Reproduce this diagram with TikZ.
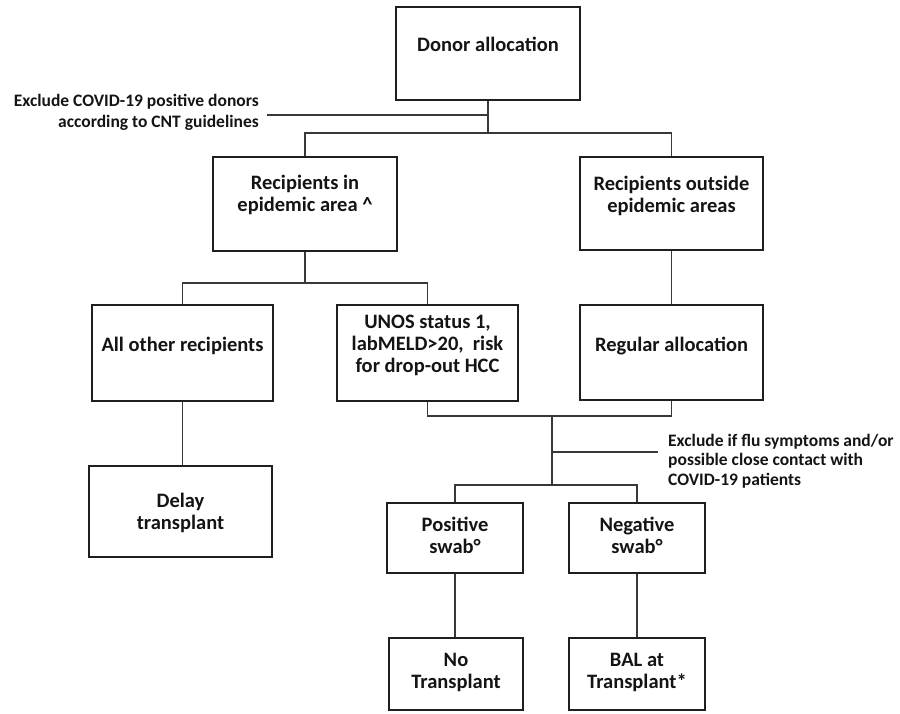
\documentclass[tikz,border=0pt]{standalone}
\usepackage{fontspec}
\setmainfont{Carlito}
\newcommand{\boxtxt}[2]{\raisebox{#1}[\height][\depth]{\begin{tabular}{@{}c@{}}#2\end{tabular}}}
\begin{document}
\begin{tikzpicture}[x=1pt,y=-1pt,
  bx/.style 2 args={draw=black!88, line width=1.1pt, inner sep=0pt,
    minimum width=#1, minimum height=#2,
    font=\fontsize{20.5}{22}\selectfont\bfseries, text=black!92},
  conn/.style={draw=black!78, line width=1.1pt},
  extxt/.style={inner sep=0pt, text=black!92}]
\useasboundingbox (0,0) rectangle (900,713);

% boxes
\node[bx={184}{93}] (donor) at (488,53.5) {\boxtxt{6.5pt}{Donor allocation}};
\node[bx={184}{94}] (recin) at (305,204) {\boxtxt{7.5pt}{Recipients in\\epidemic area \textasciicircum}};
\node[bx={183}{93}] (recout) at (671.5,203.5) {\boxtxt{6.5pt}{Recipients outside\\epidemic areas}};
\node[bx={181}{96}] (allother) at (182.5,353) {\boxtxt{6pt}{All other recipients}};
\node[bx={181}{96}] (unos) at (427.5,353) {\boxtxt{7pt}{UNOS status 1,\\labMELD>20,~ risk\\for drop-out HCC}};
\node[bx={183}{95}] (regular) at (671.5,352.5) {\boxtxt{5.5pt}{Regular allocation}};
\node[bx={183}{91}] (delay) at (180.5,511.5) {\boxtxt{-2.5pt}{Delay\\transplant}};
\node[bx={136}{70}] (pos) at (455,538) {\boxtxt{0pt}{Positive\\swab°}};
\node[bx={136}{70}] (neg) at (637,538) {\boxtxt{0pt}{Negative\\swab°}};
\node[bx={134}{72}] (notx) at (456,674) {\boxtxt{1pt}{No\\Transplant}};
\node[bx={136}{72}] (bal) at (637,674) {\boxtxt{1pt}{BAL at\\Transplant*}};

% side notes
\node[extxt, anchor=east, font=\fontsize{17.5}{21}\selectfont\bfseries] (ex1) at (259,112.5)
  {\begin{tabular}{@{}r@{}}Exclude COVID-19 positive donors\\according to CNT guidelines\end{tabular}};
\node[extxt, anchor=west, font=\fontsize{17.5}{19.5}\selectfont\bfseries] (ex2) at (668,462)
  {\begin{tabular}{@{}l@{}}Exclude if flu symptoms and/or\\possible close contact with\\COVID-19 patients\end{tabular}};

% junctions
\coordinate (e1s) at (267,115);
\coordinate (e1) at (488,115);
\coordinate (j1) at (488,133);
\coordinate (j2) at (305,283);
\coordinate (j3) at (552,416);
\coordinate (e2) at (552,452);
\coordinate (e2e) at (658,452);
\coordinate (j4) at (552,485);

% connectors
\draw[conn] (donor.south) -- (j1);
\draw[conn] (e1s) -- (e1);
\draw[conn] (recin.north) |- (j1) -| (recout.north);
\draw[conn] (recin.south) -- (j2);
\draw[conn] (allother.north) |- (j2) -| (unos.north);
\draw[conn] (recout.south) -- (regular.north);
\draw[conn] (allother.south) -- (allother.south |- delay.north);
\draw[conn] (unos.south) |- (j3) -| (regular.south);
\draw[conn] (j3) -- (j4);
\draw[conn] (e2) -- (e2e);
\draw[conn] (pos.north) |- (j4) -| (neg.north);
\draw[conn] (pos.south) -- (pos.south |- notx.north);
\draw[conn] (neg.south) -- (bal.north);
\end{tikzpicture}
\end{document}
